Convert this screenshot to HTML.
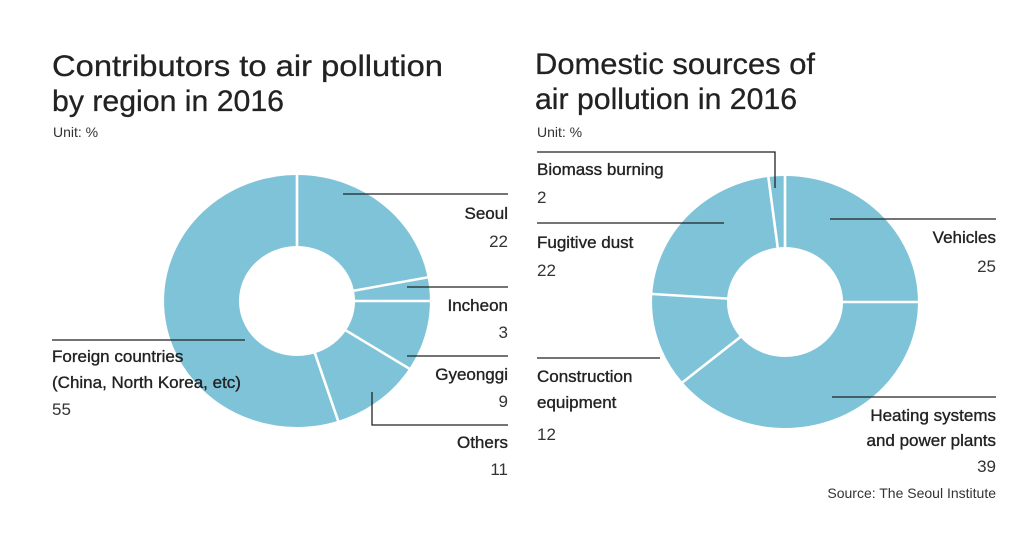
<!DOCTYPE html>
<html><head><meta charset="utf-8"><style>
html,body{margin:0;padding:0;background:#fff;}
svg{display:block;font-family:"Liberation Sans",sans-serif;}
.t{font-size:30px;fill:#222;stroke:#222;stroke-width:0.3;}
.u{font-size:14px;fill:#333;}
.l{font-size:17px;fill:#222;stroke:#222;stroke-width:0.35;}
.n{font-size:17px;fill:#333;}
.ln{stroke:#222;stroke-width:1.3;fill:none;}
.sep{stroke:#fff;stroke-width:2.5;}
</style></head><body>
<svg width="1024" height="546" viewBox="0 0 1024 546">
<rect width="1024" height="546" fill="#fff"/>
<text class="t" x="52" y="76" textLength="391" lengthAdjust="spacingAndGlyphs">Contributors to air pollution</text>
<text class="t" x="52" y="111" textLength="232" lengthAdjust="spacingAndGlyphs">by region in 2016</text>
<text class="u" x="53" y="137">Unit: %</text>
<text class="t" x="535" y="74" textLength="280" lengthAdjust="spacingAndGlyphs">Domestic sources of</text>
<text class="t" x="535" y="109" textLength="262" lengthAdjust="spacingAndGlyphs">air pollution in 2016</text>
<text class="u" x="537" y="137">Unit: %</text>

<g transform="translate(297,301) scale(1.055,1)">
<circle r="90.5" fill="none" stroke="#7fc3d9" stroke-width="71"/>
<line class="sep" x1="0" y1="-50" x2="0" y2="-130"/>
<line class="sep" x1="49.1" y1="-9.4" x2="127.7" y2="-24.4"/>
<line class="sep" x1="50" y1="0" x2="130" y2="0"/>
<line class="sep" x1="42.2" y1="26.8" x2="109.7" y2="69.7"/>
<line class="sep" x1="15.5" y1="47.6" x2="40.2" y2="123.6"/>
</g>
<g transform="translate(785,302) scale(1.055,1)">
<circle r="90.5" fill="none" stroke="#7fc3d9" stroke-width="71"/>
<line class="sep" x1="0" y1="-50" x2="0" y2="-130"/>
<line class="sep" x1="50" y1="0" x2="130" y2="0"/>
<line class="sep" x1="-38.5" y1="31.9" x2="-100.2" y2="82.9"/>
<line class="sep" x1="-49.9" y1="-3.1" x2="-129.7" y2="-8.2"/>
<line class="sep" x1="-6.3" y1="-49.6" x2="-16.3" y2="-129"/>
</g>

<polyline class="ln" points="343,194 508,194"/>
<polyline class="ln" points="407,287 508,287"/>
<polyline class="ln" points="407,356 508,356"/>
<polyline class="ln" points="372,392 372,425 508,425"/>
<polyline class="ln" points="52,340 245,340"/>
<polyline class="ln" points="537,152 775,152 775,188"/>
<polyline class="ln" points="537,223 724,223"/>
<polyline class="ln" points="537,358 660,358"/>
<polyline class="ln" points="830,219 996,219"/>
<polyline class="ln" points="832,397 996,397"/>

<g text-anchor="end">
<text class="l" x="508" y="219">Seoul</text>
<text class="n" x="508" y="247">22</text>
<text class="l" x="508" y="311">Incheon</text>
<text class="n" x="508" y="338">3</text>
<text class="l" x="508" y="380">Gyeonggi</text>
<text class="n" x="508" y="407">9</text>
<text class="l" x="508" y="448">Others</text>
<text class="n" x="508" y="475">11</text>
<text class="l" x="996" y="243">Vehicles</text>
<text class="n" x="996" y="272">25</text>
<text class="l" x="996" y="421">Heating systems</text>
<text class="l" x="996" y="446">and power plants</text>
<text class="n" x="996" y="472">39</text>
<text class="u" x="996" y="498">Source: The Seoul Institute</text>
</g>
<text class="l" x="52" y="362">Foreign countries</text>
<text class="l" x="52" y="388">(China, North Korea, etc)</text>
<text class="n" x="52" y="415">55</text>
<text class="l" x="537" y="175">Biomass burning</text>
<text class="n" x="537" y="203">2</text>
<text class="l" x="537" y="248">Fugitive dust</text>
<text class="n" x="537" y="276">22</text>
<text class="l" x="537" y="382">Construction</text>
<text class="l" x="537" y="408">equipment</text>
<text class="n" x="537" y="440">12</text>
</svg>
</body></html>
